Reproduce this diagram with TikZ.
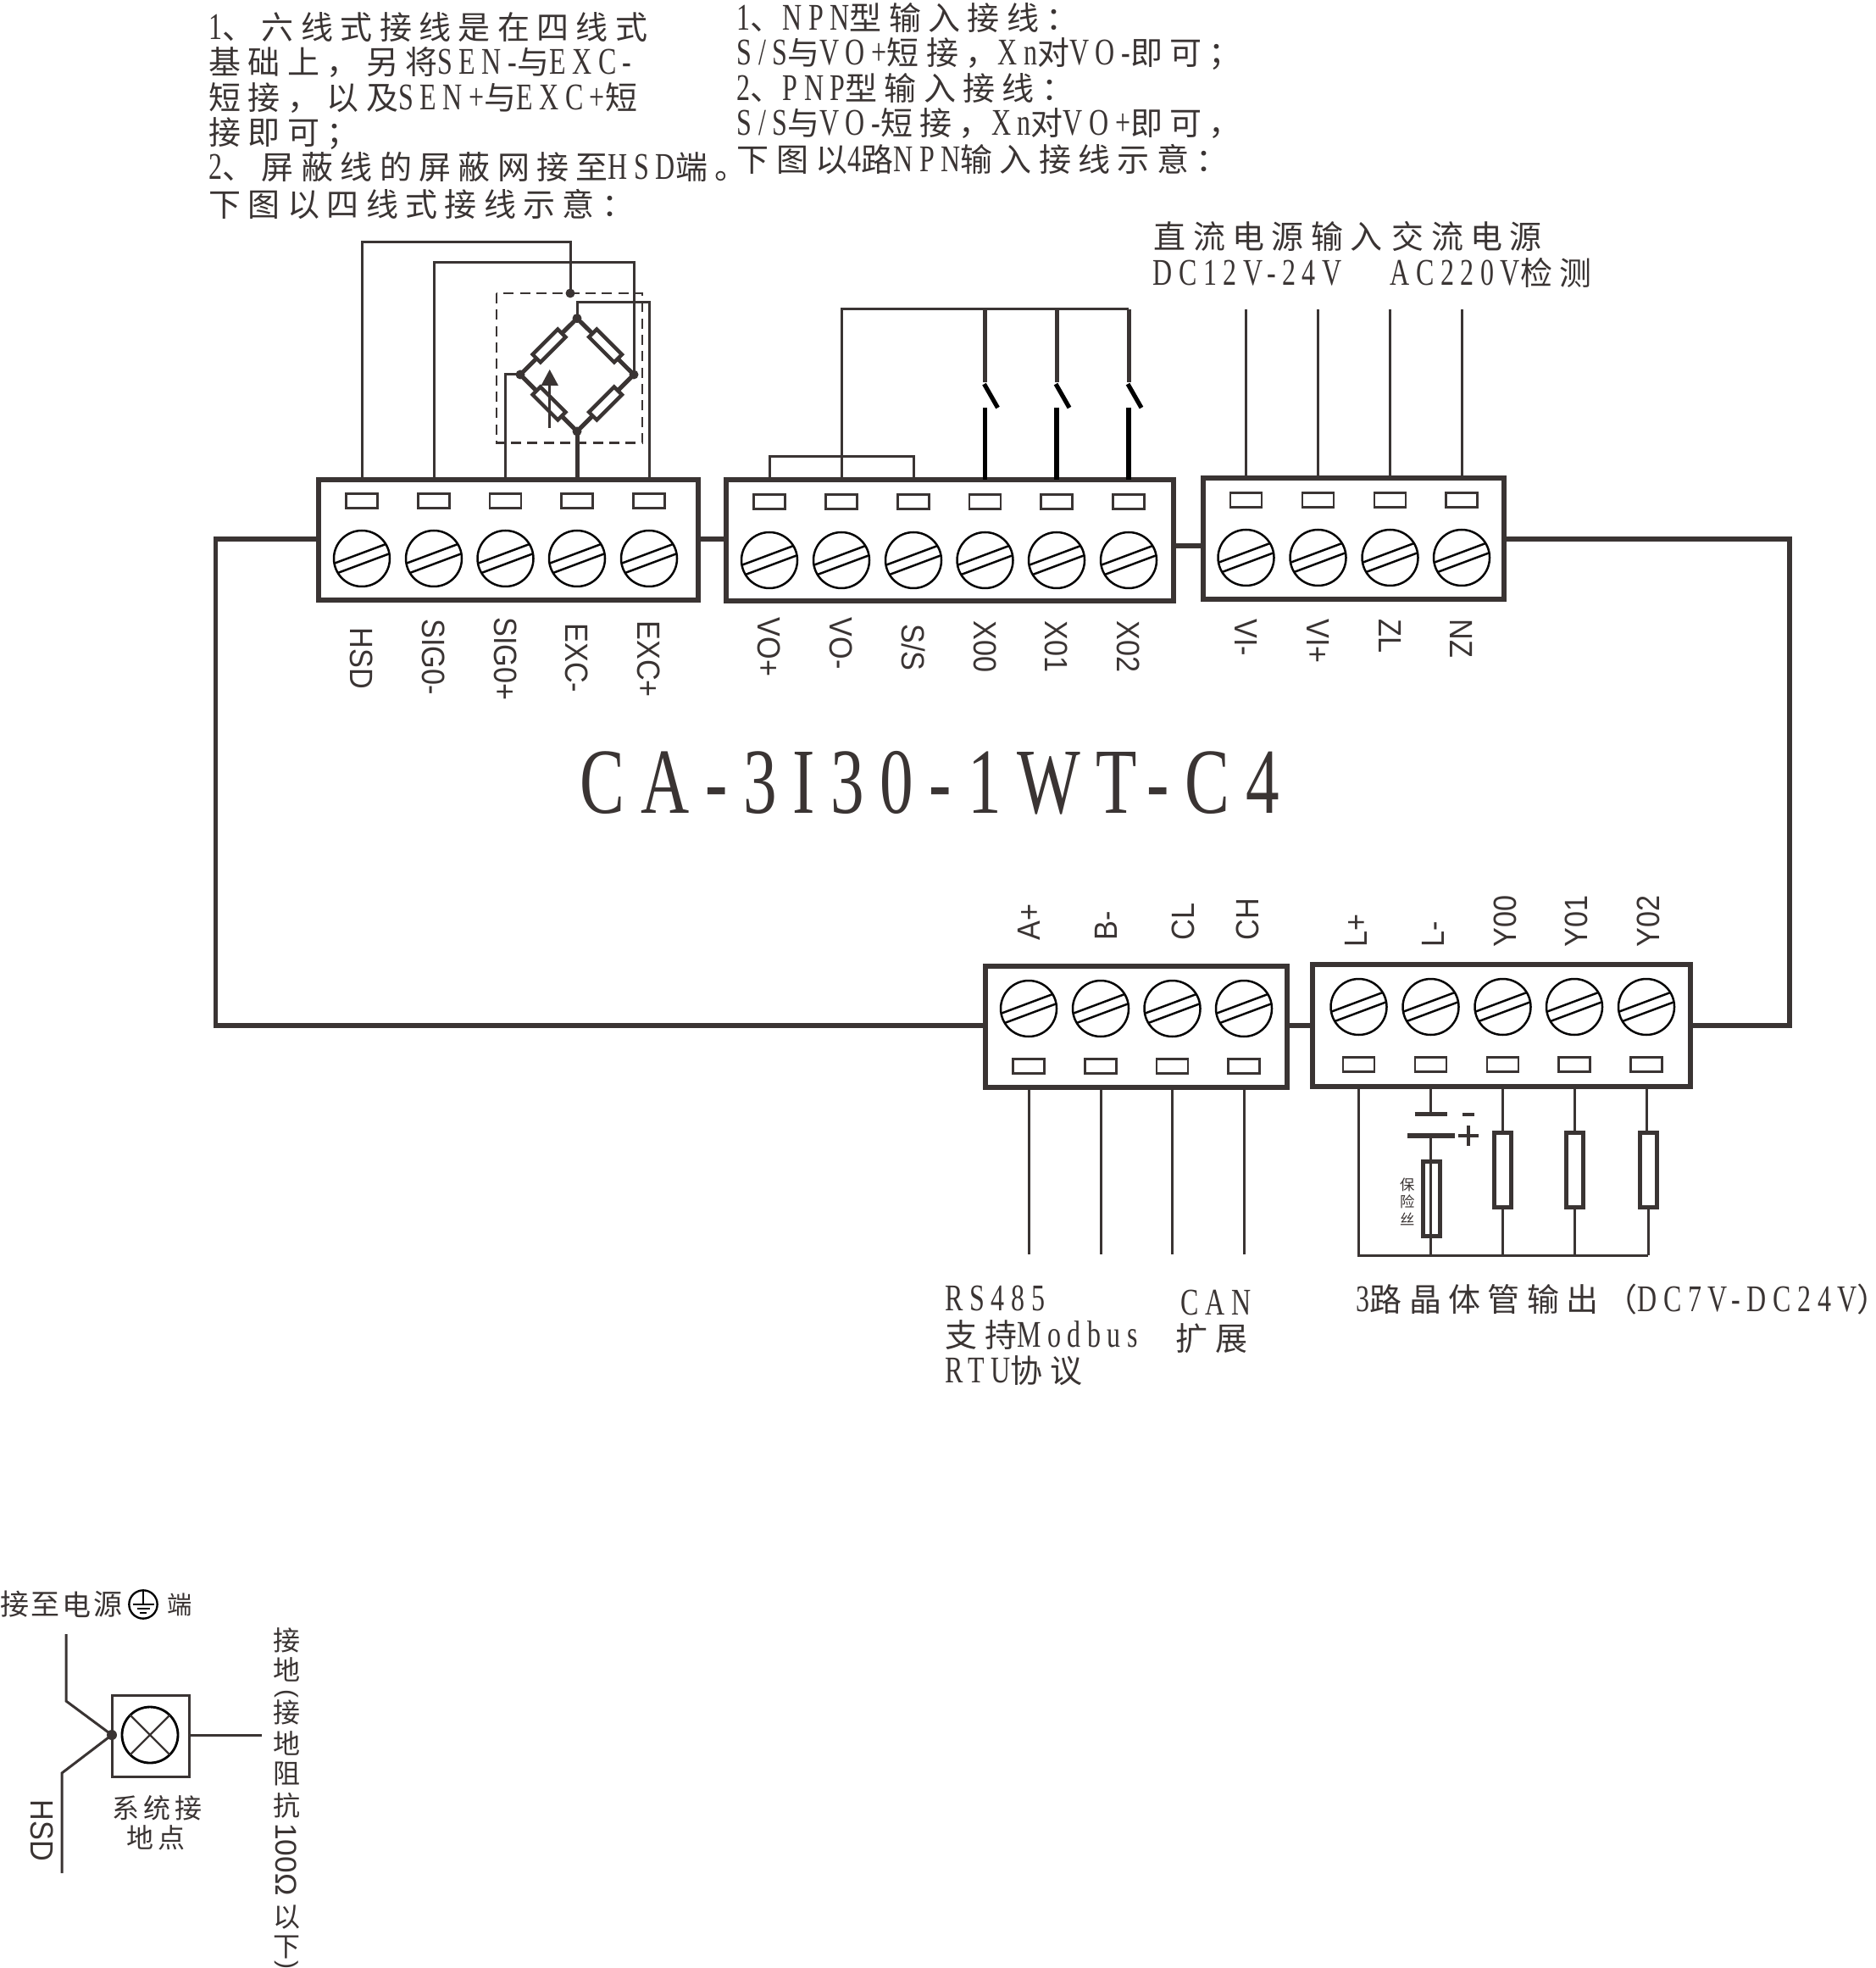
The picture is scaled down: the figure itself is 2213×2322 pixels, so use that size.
\documentclass[tikz,border=0pt]{standalone}
\usepackage{fontspec}
\usetikzlibrary{calc}
\newfontfamily\zhf[LetterSpace=22]{Noto Sans CJK SC}
\newfontfamily\zhp{Noto Sans CJK SC}
\newfontfamily\latf[Scale=1.17,FakeStretch=0.72,LetterSpace=17]{Liberation Serif}
\newfontfamily\arialf[FakeStretch=0.9]{Liberation Sans}
\newfontfamily\arialp{Liberation Sans}
\newcommand\la[1]{{\latf #1}}
\definecolor{ink}{HTML}{3A3433}
\tikzset{
  x=0.3pt,y=-0.3pt,
  wire/.style={draw=ink,line width=0.9pt},
  wirethick/.style={draw=ink,line width=1.5pt},
  swlow/.style={draw=black,line width=1.55pt},
  link/.style={draw=ink,line width=1.7pt},
  blockbox/.style={draw=ink,line width=1.8pt,inner sep=0pt,outer sep=0pt,rectangle},
  slot/.style={draw=ink,line width=0.75pt,rectangle,minimum width=11.2pt,minimum height=5.2pt,inner sep=0pt,outer sep=0pt},
  screw/.style={draw=black!90!ink,line width=0.75pt,circle,minimum size=19.8pt,inner sep=0pt,outer sep=0pt},
  chord/.style={draw=black!90!ink,line width=0.75pt},
  txt/.style={text=ink,anchor=west,inner sep=0pt,text height=10pt,text depth=1.3pt,
     font=\fontsize{11.4pt}{13pt}\selectfont\zhf},
  gtxt/.style={text=ink,inner sep=0pt,font=\fontsize{9.6pt}{11pt}\selectfont\zhp},
  pinlab/.style={text=ink,inner sep=0pt,anchor=west,text height=8.1pt,text depth=0pt,
     font=\fontsize{11.4pt}{13pt}\selectfont\arialf},
  dotn/.style={fill=ink,draw=none,circle,minimum size=3.3pt,inner sep=0pt,outer sep=0pt},
  res/.style={draw=ink,line width=1.3pt,fill=white,rectangle,inner sep=0pt,outer sep=0pt,minimum width=12.6pt,minimum height=3.9pt},
  resv/.style={draw=ink,line width=1.5pt,fill=white,rectangle,inner sep=0pt,outer sep=0pt,minimum width=6pt,minimum height=26.4pt},
  dashbox/.style={draw=ink,line width=0.7pt,dash pattern=on 3.6pt off 2.2pt},
}
\newcommand\blockn[5]{\node[blockbox,minimum width={(#4-#2)*0.3pt},minimum height={(#5-#3)*0.3pt}] (#1) at ({(#2+#4)/2},{(#3+#5)/2}) {};}
\newcommand\screwn[3]{\node[screw] (#1) at (#2,#3) {};\draw[chord] (#1.31.5)--(#1.190.5) (#1.10.5)--(#1.211.5);}
\begin{document}
\begin{tikzpicture}
\useasboundingbox (0,0) rectangle (2213,2322);
\fill[white] (0,0) rectangle (2213,2322);

% --- top notes
\node[txt] (a1) at (246,32) {\la{1}、六线式接线是在四线式};
\node[txt] (a2) at (246,73) {基础上，另将\la{SEN-}与\la{EXC-}};
\node[txt] (a3) at (246,115) {短接，以及\la{SEN+}与\la{EXC+}短};
\node[txt] (a4) at (246,156) {接即可；};
\node[txt] (a5) at (246,197) {\la{2}、屏蔽线的屏蔽网接至\la{HSD}端。};
\node[txt] (a6) at (246,241) {下图以四线式接线示意：};
\node[txt] (c1) at (869,21) {\la{1}、\la{NPN}型输入接线：};
\node[txt] (c2) at (869,62) {\la{S/S}与\la{VO+}短接，\la{Xn}对\la{VO-}即可；};
\node[txt] (c3) at (869,104) {\la{2}、\la{PNP}型输入接线：};
\node[txt] (c4) at (869,145) {\la{S/S}与\la{VO-}短接，\la{Xn}对\la{VO+}即可，};
\node[txt] (c5) at (869,188) {下图以\la{4}路\la{NPN}输入接线示意：};
\node[txt] (p1) at (1361,279) {直流电源输入};
\node[txt] (p2) at (1642,279) {交流电源};
\node[txt] (p3) at (1360,322) {\la{DC12V-24V}};
\node[txt] (p4) at (1640,322) {\la{AC220V}检测};
\node[txt,text height=22pt,font=\fontsize{28.2pt}{32pt}\selectfont\latf] (title) at (684,925) {CA-3I30-1WT-C4};
\node[txt] (r1) at (1115,1532) {\la{RS485}};
\node[txt] (r2) at (1115,1575) {支持\la{Modbus}};
\node[txt] (r3) at (1115,1617) {\la{RTU}协议};
\node[txt] (r4) at (1393,1537) {\la{CAN}};
\node[txt] (r5) at (1387,1579) {扩展};
\node[txt] (r6) at (1600,1533) {\la{3}路晶体管输出（\la{DC7V-DC24V}）};

% --- blocks
\blockn{b1}{376}{566}{824}{708}
\blockn{b2}{857}{566}{1385}{709}
\blockn{b3}{1420}{564}{1775}{707}
\blockn{b4}{1163}{1140}{1519}{1283}
\blockn{b5}{1549}{1138}{1995}{1282}

\foreach \i/\x/\ly/\lab in {1/427/740/HSD,2/512/730/SIG0-,3/596.5/728/SIG0+,4/681/735/EXC-,5/766/732/EXC+}{
  \node[slot] (t1\i) at (\x,591) {};
  \screwn{s1\i}{\x}{659}
  \node[pinlab,rotate=-90] (l1\i) at (\x,\ly) {\lab};
}
\foreach \i/\x/\ly/\lab in {1/908/728/VO+,2/993/728/VO-,3/1078/736/S{/}S,4/1162.5/732/X00,5/1247/732/X01,6/1332/732/X02}{
  \node[slot] (t2\i) at (\x,592) {};
  \screwn{s2\i}{\x}{661}
  \node[pinlab,rotate=-90] (l2\i) at (\x,\ly) {\lab};
}
\foreach \i/\x/\lab in {1/1470.5/VI-,2/1555.5/VI+,3/1640.5/ZL,4/1725/NZ}{
  \node[slot] (t3\i) at (\x,590) {};
  \screwn{s3\i}{\x}{658}
  \node[pinlab,rotate=-90] (l3\i) at (\x,730) {\lab};
}
\foreach \i/\x/\lx/\lab in {1/1214/1214/A+,2/1299/1305/B-,3/1383.5/1396/CL,4/1468/1472/CH}{
  \node[slot] (t4\i) at (\x,1258) {};
  \screwn{s4\i}{\x}{1190}
  \node[pinlab,rotate=90] (l4\i) at (\lx,1110) {\lab};
}
\foreach \i/\x/\lx/\lab in {1/1603.5/1600/L+,2/1688.5/1691/L-,3/1773.5/1776/Y00,4/1858/1860/Y01,5/1943/1945/Y02}{
  \node[slot] (t5\i) at (\x,1256) {};
  \screwn{s5\i}{\x}{1188}
  \node[pinlab,rotate=90] (l5\i) at (\lx,1118) {\lab};
}

% --- links between blocks and outer frame
\coordinate (lk) at (0,636);
\coordinate (lk2) at (0,644);
\coordinate (lkb) at (0,1210);
\coordinate (outL) at (254.6,1210);
\coordinate (outR) at (2112,1210);
\draw[link] (b1.east|-lk) -- (b2.west|-lk);
\draw[link] (b2.east|-lk2) -- (b3.west|-lk2);
\draw[link] (b1.west|-lk) -| (outL) -- (b4.west|-lkb);
\draw[link] (b3.east|-lk) -| (outR) -- (b5.east|-lkb);
\draw[link] (b4.east|-lkb) -- (b5.west|-lkb);

% --- bridge
\draw[dashbox] (586,346) rectangle (758,522.5);
\node[dotn] (bt) at (681,375.6) {};
\node[dotn] (bl) at (614,442) {};
\node[dotn] (br) at (748,442) {};
\node[dotn] (bb) at (681,509) {};
\node[dotn] (bs) at (673,346) {};
\draw[wirethick] (bt.center) -- (br.center) -- (bb.center) -- (bl.center) -- cycle;
\node[res,rotate=45] (r11) at (648,408) {};
\node[res,rotate=-45] (r12) at (714.5,408) {};
\node[res,rotate=-45] (r13) at (648,476) {};
\node[res,rotate=45] (r14) at (714.5,476) {};
\draw[wire] (648.7,505) -- (648.7,450);
\fill[ink] (648.7,436) -- (659,455) -- (638.5,455) -- cycle;
\coordinate (hsdtop) at (673,286);
\coordinate (sigtop) at (748,310);
\coordinate (exctop) at (681,357);
\draw[wire] (t11|-b1.north) |- (hsdtop) -- (bs.center);
\draw[wire] (t12|-b1.north) |- (sigtop) -- (br.center);
\draw[wire] (t13|-b1.north) |- (bl.center);
\draw[wirethick] (t14|-b1.north) -- (bb.center);
\draw[wire] (t15|-b1.north) |- (exctop) -- (bt.center);

% --- NPN inputs
\coordinate (bus) at (0,364.6);
\coordinate (shortbus) at (0,538.6);
\draw[wire] (t21|-b2.north) |- (t23|-shortbus) -- (t23|-b2.north);
\draw[wire] (t22|-b2.north) |- (t26|-bus);
\foreach \i in {4,5,6}{
  \coordinate (su\i) at ($(t2\i|-bus)+(0,86.5)$);
  \coordinate (sv\i) at ($(t2\i|-bus)+(0,116.5)$);
  \draw[wirethick] (t2\i|-bus) -- (su\i);
  \draw[swlow] ($(su\i)+(-1,2)$) -- ($(su\i)+(15,30)$);
  \draw[swlow] (sv\i) -- (t2\i|-b2.north);
}

% --- power inputs
\coordinate (ptop) at (0,365);
\foreach \i in {1,2,3,4}{ \draw[wire] (t3\i|-b3.north) -- (t3\i|-ptop); }

% --- comm lines
\coordinate (cbot) at (0,1480);
\foreach \i in {1,2,3,4}{ \draw[wire] (t4\i|-b4.south) -- (t4\i|-cbot); }

% --- transistor outputs
\coordinate (obot) at (0,1481);
\coordinate (oend) at (1945,1481);
\draw[wire] (t51|-b5.south) |- (oend);
\node[resv] (ry0) at (1773,1380) {};
\node[resv] (ry1) at (1858,1380) {};
\node[resv] (ry2) at (1945,1380) {};
\draw[wire] (t53|-b5.south) -- (t53|-ry0.north);
\draw[wire] (t54|-b5.south) -- (t54|-ry1.north);
\draw[wire] (t55|-b5.south) -- (t55|-ry2.north);
\draw[wire] (ry0.south) -- (ry0|-obot);
\draw[wire] (ry1.south) -- (ry1|-obot);
\draw[wire] (ry2.south) -- (ry2|-obot);
\coordinate (capa) at (1688.5,1314.7);
\coordinate (capb) at (1688.5,1340);
\node[resv] (fuse) at (1689,1414) {};
\draw[wire] (t52|-b5.south) -- (capa);
\draw[ink,line width=1.65pt] ($(capa)+(-19,0)$) -- ($(capa)+(19,0)$);
\draw[ink,line width=1.8pt] ($(capb)+(-27.5,0)$) -- ($(capb)+(28.5,0)$);
\draw[wire] (capb) -- (capb|-obot);
\draw[ink,line width=1.3pt] (1726,1315) -- (1740,1315);
\draw[ink,line width=1.3pt] (1721,1340) -- (1745,1340) (1733,1328) -- (1733,1352);
\node[gtxt,font=\fontsize{5.2pt}{6pt}\selectfont\zhp] (f1) at (1661,1398) {保};
\node[gtxt,font=\fontsize{5.2pt}{6pt}\selectfont\zhp] (f2) at (1661,1418) {险};
\node[gtxt,font=\fontsize{5.2pt}{6pt}\selectfont\zhp] (f3) at (1661,1438) {丝};

% --- earth point
\node[draw=ink,line width=0.9pt,rectangle,minimum width=27.3pt,minimum height=28.8pt,inner sep=0pt,outer sep=0pt] (gbox) at (177.5,2048) {};
\node[draw=black,line width=0.85pt,circle,minimum size=19.8pt,inner sep=0pt,outer sep=0pt] (gc) at (177,2047) {};
\draw[ink,line width=0.7pt] (gc.45) -- (gc.225) (gc.135) -- (gc.315);
\node[dotn,minimum size=3.6pt] (gd) at (132,2047) {};
\coordinate (g1) at (78,1928);
\coordinate (g2) at (78,2007);
\coordinate (g3) at (73,2210);
\coordinate (g4) at (73,2092);
\coordinate (g5) at (309,2047);
\draw[wire] (g1) -- (g2) -- (gd.center);
\draw[wire] (g3) -- (g4) -- (gd.center);
\draw[wire] (gbox.east|-g5) -- (g5);
\node[pinlab,rotate=-90] (ghsd) at (50,2123) {HSD};
\node[gtxt,font=\fontsize{10.2pt}{11pt}\selectfont\zhp] (g11) at (17,1893) {接};
\node[gtxt,font=\fontsize{10.2pt}{11pt}\selectfont\zhp] (g12) at (53,1893) {至};
\node[gtxt,font=\fontsize{10.2pt}{11pt}\selectfont\zhp] (g13) at (90,1893) {电};
\node[gtxt,font=\fontsize{10.2pt}{11pt}\selectfont\zhp] (g14) at (127,1893) {源};
\node[draw=black,line width=0.7pt,circle,minimum size=10pt,inner sep=0pt,outer sep=0pt] (gsym) at (169,1893) {};
\draw[black,line width=0.7pt] (gsym.north) -- (169,1893.3) (156.5,1893.3) -- (181.5,1893.3) (161.5,1898.3) -- (176.5,1898.3) (165,1902.7) -- (173,1902.7);
\node[gtxt,font=\fontsize{8.8pt}{10pt}\selectfont\zhp] (g15) at (212,1893) {端};
\node[gtxt,font=\fontsize{9.6pt}{11pt}\selectfont\zhp] (g21) at (148,2133) {系};
\node[gtxt,font=\fontsize{9.6pt}{11pt}\selectfont\zhp] (g22) at (185,2133) {统};
\node[gtxt,font=\fontsize{9.6pt}{11pt}\selectfont\zhp] (g23) at (222,2133) {接};
\node[gtxt,font=\fontsize{9.6pt}{11pt}\selectfont\zhp] (g24) at (165,2168) {地};
\node[gtxt,font=\fontsize{9.6pt}{11pt}\selectfont\zhp] (g25) at (202,2168) {点};
\foreach \n/\y/\c in {1/1935/接,2/1970/地,3/2020/接,4/2057/地,5/2093/阻,6/2130/抗,7/2262/以,8/2297/下}{
  \node[gtxt] (v\n) at (338,\y) {\c};
}
\node[gtxt,rotate=-90,font=\fontsize{9pt}{11pt}\selectfont\arialp] (vp1) at (338,1998) {(};
\node[gtxt,rotate=-90,font=\fontsize{10.6pt}{12pt}\selectfont\arialp] (v100) at (338,2194) {100Ω};
\node[gtxt,rotate=-90,font=\fontsize{9pt}{11pt}\selectfont\arialp] (vp2) at (338,2318) {)};
\end{tikzpicture}
\end{document}
